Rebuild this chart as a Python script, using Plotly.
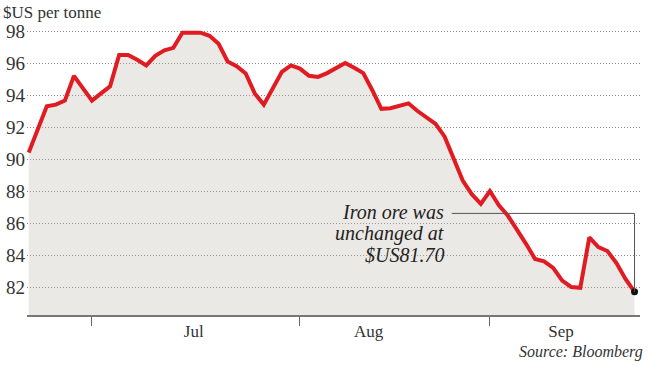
import plotly.graph_objects as go

# Trading days (weekdays) shown on the chart, 2014
dates = [
    "2014-06-20", "2014-06-23", "2014-06-24", "2014-06-25", "2014-06-26", "2014-06-27", "2014-06-30",
    "2014-07-01", "2014-07-02", "2014-07-03", "2014-07-04", "2014-07-07", "2014-07-08", "2014-07-09",
    "2014-07-10", "2014-07-11", "2014-07-14", "2014-07-15", "2014-07-16", "2014-07-17", "2014-07-18",
    "2014-07-21", "2014-07-22", "2014-07-23", "2014-07-24", "2014-07-25", "2014-07-28", "2014-07-29",
    "2014-07-30", "2014-07-31", "2014-08-01", "2014-08-04", "2014-08-05", "2014-08-06", "2014-08-07",
    "2014-08-08", "2014-08-11", "2014-08-12", "2014-08-13", "2014-08-14", "2014-08-15", "2014-08-18",
    "2014-08-19", "2014-08-20", "2014-08-21", "2014-08-22", "2014-08-25", "2014-08-26", "2014-08-27",
    "2014-08-28", "2014-08-29", "2014-09-01", "2014-09-02", "2014-09-03", "2014-09-04", "2014-09-05",
    "2014-09-08", "2014-09-09", "2014-09-10", "2014-09-11", "2014-09-12", "2014-09-15", "2014-09-16",
    "2014-09-17", "2014-09-18", "2014-09-19", "2014-09-22", "2014-09-23",
]
prices = [
    90.4, 91.9, 93.3, 93.4, 93.65, 95.2, 94.4,
    93.65, 94.1, 94.55, 96.5, 96.5, 96.2, 95.85,
    96.45, 96.8, 96.95, 97.9, 97.9, 97.9, 97.7,
    97.2, 96.1, 95.8, 95.35, 94.1, 93.4, 94.4,
    95.45, 95.85, 95.65, 95.2, 95.13, 95.37, 95.7,
    96.0, 95.7, 95.37, 94.3, 93.14, 93.18, 93.35,
    93.48, 93.0, 92.6, 92.2, 91.4, 89.95, 88.65,
    87.8, 87.2, 88.0, 87.1, 86.45, 85.6, 84.7,
    83.75, 83.6, 83.2, 82.4, 82.0, 81.95, 85.1,
    84.5, 84.25, 83.5, 82.5, 81.7,
]

y_ticks = [82, 84, 86, 88, 90, 92, 94, 96, 98]
month_starts = ["2014-07-01", "2014-08-01", "2014-09-01"]
month_label_pos = ["2014-07-16 06:00", "2014-08-12 14:00", "2014-09-10 21:00"]
month_labels = ["Jul", "Aug", "Sep"]
note_lines = ["Iron ore was", "unchanged at", "$US81.70"]
note_level = 86.6
note_start = "2014-08-25 19:00"

SERIF = "Liberation Serif"

fig = go.Figure()
fig.add_trace(go.Scatter(
    x=dates, y=prices, mode="lines",
    line=dict(color="#e11b22", width=4),
    fill="tozeroy", fillcolor="rgba(190,182,168,0.30)",
    hoverinfo="skip", showlegend=False,
))
fig.add_trace(go.Scatter(
    x=[dates[-1]], y=[prices[-1]], mode="markers",
    marker=dict(color="#111", size=7), showlegend=False,
))

# connector from note to last point
fig.add_shape(type="line", xref="x", yref="y",
              x0=note_start, x1=dates[-1], y0=note_level, y1=note_level,
              line=dict(color="#555", width=1))
fig.add_shape(type="line", xref="x", yref="y",
              x0=dates[-1], x1=dates[-1], y0=note_level, y1=prices[-1],
              line=dict(color="#555", width=1))

for k, txt in enumerate(note_lines):
    fig.add_annotation(
        text=txt, xref="paper", yref="paper",
        x=0.6835, y=0.349 - k * 0.0725,
        xanchor="right", yanchor="middle", showarrow=False,
        font=dict(family=SERIF, size=20, color="#222", style="italic"),
    )

fig.add_annotation(
    text="Source: Bloomberg", xref="paper", yref="paper",
    x=1.008, y=-0.125, xanchor="right", yanchor="middle", showarrow=False,
    font=dict(family=SERIF, size=16, color="#333", style="italic"),
)

fig.update_layout(
    width=650, height=366,
    margin=dict(l=27, r=10, t=20, b=51),
    paper_bgcolor="white", plot_bgcolor="white",
    title=dict(text="$US per tonne", x=3 / 650, xref="container", xanchor="left",
               y=1 - 12 / 366, yref="container", yanchor="middle",
               font=dict(family=SERIF, size=17, color="#333")),
    xaxis=dict(
        type="date",
        range=["2014-06-19 19:30", "2014-09-23 14:30"],
        rangebreaks=[dict(bounds=["sat", "mon"])],
        showgrid=False, zeroline=False, automargin=False,
        showline=True, linecolor="#777", linewidth=1.5,
        tickmode="array", tickvals=month_label_pos, ticktext=month_labels,
        ticks="", tickfont=dict(family=SERIF, size=17, color="#333"),
        minor=dict(tickmode="array", tickvals=month_starts, ticks="outside",
                   ticklen=9, tickwidth=1.2, tickcolor="#666", showgrid=False),
    ),
    yaxis=dict(
        range=[80.25, 98.69], automargin=False,
        tickmode="array", tickvals=y_ticks,
        showgrid=True, gridcolor="#8a8a8a", griddash="1px,2px", gridwidth=1,
        zeroline=False, showline=False, ticks="", ticklabelstandoff=1,
        tickfont=dict(family=SERIF, size=19, color="#333"),
    ),
)

fig.write_html("out.html", config={"displayModeBar": False},
               post_script="document.body.style.margin='0px';")
